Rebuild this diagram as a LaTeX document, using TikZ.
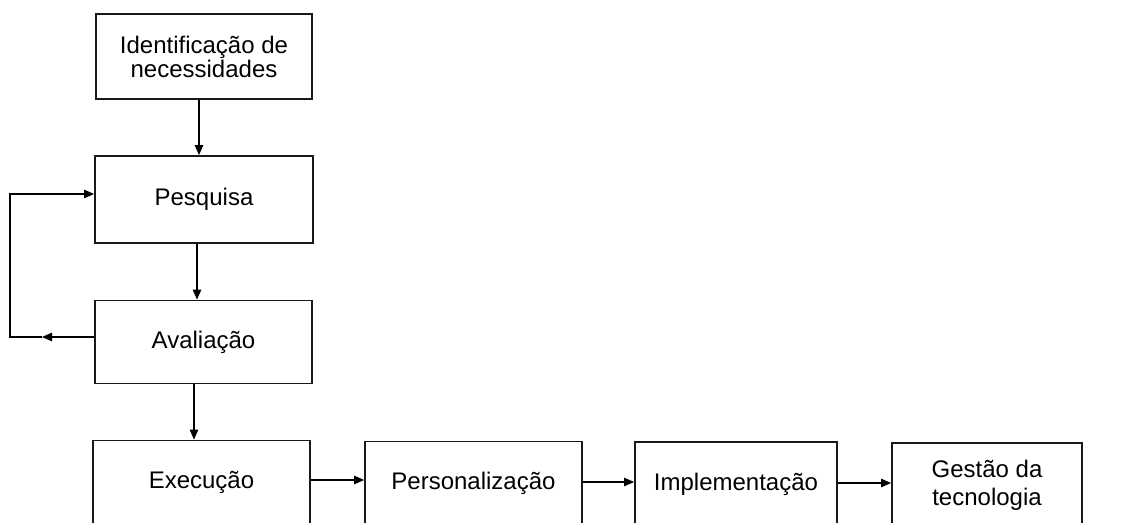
\documentclass[tikz,border=0pt]{standalone}
\usepackage{fontspec}
\setmainfont{Liberation Sans}
\usetikzlibrary{arrows.meta}
\begin{document}
\begin{tikzpicture}[x=1pt,y=-1pt,
  box/.style={draw=black!90, line width=1.8pt, rectangle, inner sep=0pt,
    align=center, font=\fontsize{24}{28}\selectfont},
  arr/.style={draw=black, line width=1.1pt, -{Triangle[length=10pt,width=8.5pt]}},
  link/.style={draw=black, line width=1.1pt}]
  \path[use as bounding box] (0,0) rectangle (1124,522);
  \clip (0,0) rectangle (1124,522);
  \fill[white] (0,0) rectangle (1124,522);

  % vertical chain
  \node[box, minimum width=216pt, minimum height=85pt,
        font=\fontsize{24}{24}\selectfont] (idn) at (204,56.5)
        {Identificação de\\necessidades};
  \node[box, minimum width=218pt, minimum height=87pt] (pes) at (204,199.5) {Pesquisa};
  \node[box, minimum width=217pt, minimum height=83pt] (avl) at (203.5,342) {Avaliação};

  % bottom row
  \node[box, minimum width=217pt, minimum height=84pt] (exe) at (201.5,482.5) {Execução};
  \node[box, minimum width=217pt, minimum height=84pt] (per) at (473.5,483.5) {Personalização};
  \node[box, minimum width=202pt, minimum height=84pt] (imp) at (736,484) {Implementação};
  \node[box, minimum width=190pt, minimum height=84pt] (ges) at (987,485) {Gestão da\\tecnologia};

  % downward arrows
  \draw[arr] ([xshift=-5pt]idn.south) -- ([xshift=-5pt]idn.south |- pes.north);
  \draw[arr] ([xshift=-7pt]pes.south) -- ([xshift=-7pt]pes.south |- avl.north);
  \draw[arr] ([xshift=-9.5pt]avl.south) -- ([xshift=-9.5pt]avl.south |- exe.north);

  % rightward arrows
  \draw[arr] ([yshift=2.5pt]exe.east) -- ([yshift=2.5pt]exe.east -| per.west);
  \draw[arr] ([yshift=1.5pt]per.east) -- ([yshift=1.5pt]per.east -| imp.west);
  \draw[arr] ([yshift=1pt]imp.east) -- ([yshift=1pt]imp.east -| ges.west);

  % feedback loop from Avaliação back to Pesquisa
  \coordinate (fbtip) at (42,337);
  \coordinate (fbcorner) at (10,337);
  \draw[arr] ([yshift=5pt]avl.west) -- (fbtip);
  \draw[arr] (fbtip) -- (fbcorner) |- ([yshift=5.5pt]pes.west);
\end{tikzpicture}
\end{document}
